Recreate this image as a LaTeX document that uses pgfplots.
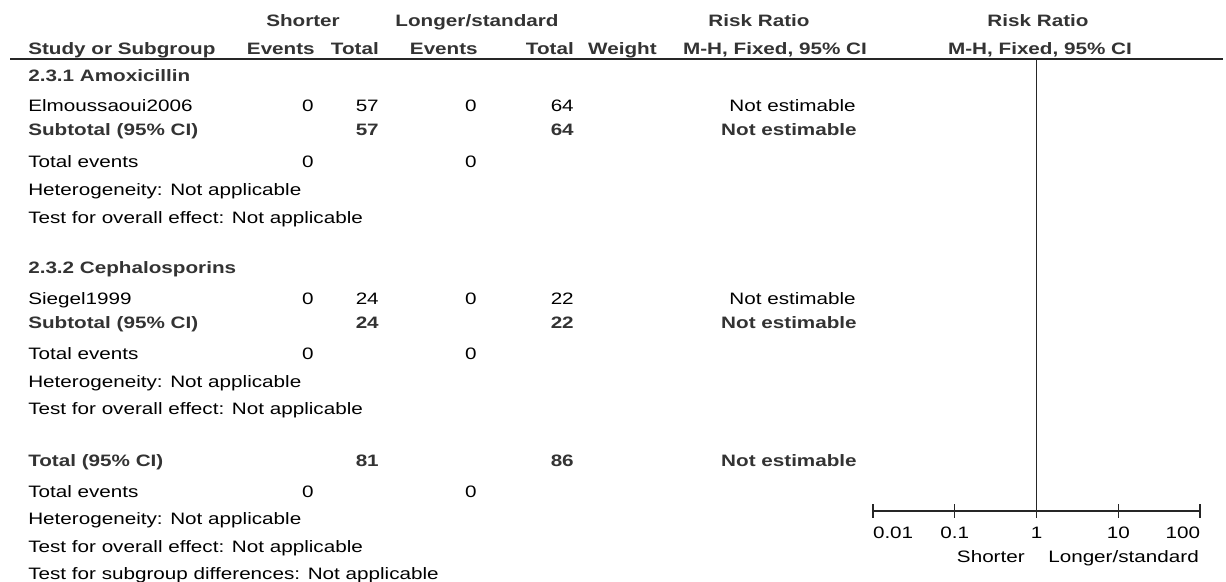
\documentclass[border=0pt]{standalone}
\usepackage{pgfplots}
\pgfplotsset{compat=1.18}
\usepackage{fontspec}
\setmainfont{Liberation Sans}[FakeStretch=1.25]
\begin{document}
\begin{tikzpicture}[font=\fontsize{12.4pt}{14pt}\selectfont,
  L/.style={anchor=base west, inner sep=0pt},
  R/.style={anchor=base east, inner sep=0pt},
  C/.style={anchor=base, inner sep=0pt},
  B/.style={font=\fontsize{12.4pt}{14pt}\selectfont\bfseries, text=black!80}]
\useasboundingbox (0,0) rectangle (919.5pt,435.75pt);
\begin{axis}[at={(0,0)}, anchor=south west, width=919.5pt, height=435.75pt,
  scale only axis, xmin=0, xmax=1226, ymin=0, ymax=581, y dir=reverse,
  hide axis, clip=false]
\draw[line width=0.9pt, black!85] (axis cs:10,59) -- (axis cs:1223,59);
% header row 1
\node[C,B] at (axis cs:303,27) {Shorter};
\node[C,B] at (axis cs:477,27) {Longer/standard};
\node[C,B] at (axis cs:759,27) {Risk Ratio};
\node[C,B] at (axis cs:1038,27) {Risk Ratio};
% header row 2
\node[L,B] at (axis cs:28,55) {Study or Subgroup};
\node[R,B] at (axis cs:315,55) {Events};
\node[R,B] at (axis cs:379,55) {Total};
\node[R,B] at (axis cs:478,55) {Events};
\node[R,B] at (axis cs:574,55) {Total};
\node[R,B] at (axis cs:657,55) {Weight};
\node[C,B] at (axis cs:775,55) {M-H, Fixed, 95\% CI};
\node[C,B] at (axis cs:1040,55) {M-H, Fixed, 95\% CI};
% group 1
\node[L,B] at (axis cs:28,82) {2.3.1 Amoxicillin};
\node[L] at (axis cs:28,112) {Elmoussaoui2006};
\node[R] at (axis cs:314,112) {0};
\node[R] at (axis cs:379,112) {57};
\node[R] at (axis cs:477,112) {0};
\node[R] at (axis cs:574,112) {64};
\node[R] at (axis cs:856,112) {Not estimable};
\node[L,B] at (axis cs:28,136) {Subtotal (95\% CI)};
\node[R,B] at (axis cs:379,136) {57};
\node[R,B] at (axis cs:574,136) {64};
\node[R,B] at (axis cs:857,136) {Not estimable};
\node[L] at (axis cs:28,167) {Total events};
\node[R] at (axis cs:314,167) {0};
\node[R] at (axis cs:477,167) {0};
\node[L] at (axis cs:28,195) {Heterogeneity: Not applicable};
\node[L] at (axis cs:28,223) {Test for overall effect: Not applicable};
% group 2
\node[L,B] at (axis cs:28,273) {2.3.2 Cephalosporins};
\node[L] at (axis cs:28,304) {Siegel1999};
\node[R] at (axis cs:314,304) {0};
\node[R] at (axis cs:379,304) {24};
\node[R] at (axis cs:477,304) {0};
\node[R] at (axis cs:574,304) {22};
\node[R] at (axis cs:856,304) {Not estimable};
\node[L,B] at (axis cs:28,328) {Subtotal (95\% CI)};
\node[R,B] at (axis cs:379,328) {24};
\node[R,B] at (axis cs:574,328) {22};
\node[R,B] at (axis cs:857,328) {Not estimable};
\node[L] at (axis cs:28,359) {Total events};
\node[R] at (axis cs:314,359) {0};
\node[R] at (axis cs:477,359) {0};
\node[L] at (axis cs:28,387) {Heterogeneity: Not applicable};
\node[L] at (axis cs:28,414) {Test for overall effect: Not applicable};
% total
\node[L,B] at (axis cs:28,466) {Total (95\% CI)};
\node[R,B] at (axis cs:379,466) {81};
\node[R,B] at (axis cs:574,466) {86};
\node[R,B] at (axis cs:857,466) {Not estimable};
\node[L] at (axis cs:28,497) {Total events};
\node[R] at (axis cs:314,497) {0};
\node[R] at (axis cs:477,497) {0};
\node[L] at (axis cs:28,524) {Heterogeneity: Not applicable};
\node[L] at (axis cs:28,552) {Test for overall effect: Not applicable};
\node[L] at (axis cs:28,579) {Test for subgroup differences: Not applicable};
% favours labels
\node[R] at (axis cs:1025,562) {Shorter};
\node[L] at (axis cs:1048,562) {Longer/standard};
\end{axis}
\begin{axis}[at={(654.75pt,52.5pt)}, anchor=south west,
  width=245.25pt, height=339pt, scale only axis,
  xmode=log, xmin=0.01, xmax=100, ymin=0, ymax=1,
  axis x line=bottom, axis y line=none,
  axis line style={-, line width=0.9pt, black!85},
  xtick={0.01,0.1,1,10,100},
  xticklabels={\makebox[0pt][l]{0.01},0.1,1,10,\makebox[0pt][r]{100}},
  xminorticks=false,
  tick align=center, major tick length=10pt,
  every tick/.style={line width=0.9pt, black!85},
  xticklabel style={anchor=base, inner sep=0pt, yshift=-15.5pt,
    font=\fontsize{12.4pt}{14pt}\selectfont},
  clip=false]
\addplot[black!85, line width=0.9pt] coordinates {(1,0) (1,1)};
\end{axis}
\end{tikzpicture}
\end{document}
